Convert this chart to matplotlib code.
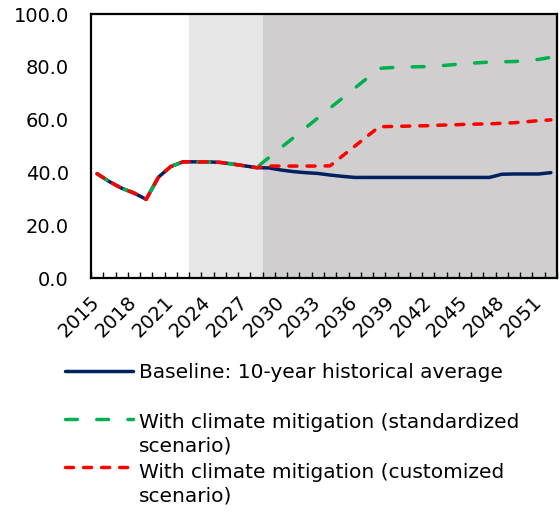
import matplotlib
matplotlib.use('Agg')
import matplotlib.pyplot as plt
from matplotlib.lines import Line2D

years = list(range(2015, 2053))
baseline = [39.5, 36.5, 34.0, 32.2, 29.8, 38.2, 42.2, 44.0, 44.0, 44.0,
            43.8, 43.2, 42.5, 41.8, 41.7, 40.9, 40.3, 39.9, 39.6, 39.0,
            38.5, 38.1, 38.1, 38.1, 38.1, 38.1, 38.1, 38.1, 38.1, 38.1,
            38.1, 38.1, 38.1, 39.3, 39.4, 39.4, 39.4, 39.9]
standardized = [39.5, 36.5, 34.0, 32.2, 29.8, 38.2, 42.2, 44.0, 44.0, 44.0,
                43.8, 43.2, 42.5, 41.8, 45.6, 49.4, 53.1, 56.9, 60.6, 64.4,
                68.1, 71.9, 75.6, 79.4, 79.7, 79.9, 80.0, 80.1, 80.4, 80.8,
                81.2, 81.5, 81.8, 81.9, 82.0, 82.3, 82.8, 83.6]
customized = [39.5, 36.5, 34.0, 32.2, 29.8, 38.2, 42.2, 44.0, 44.0, 44.0,
              43.8, 43.2, 42.5, 41.8, 42.4, 42.4, 42.4, 42.4, 42.4, 42.5,
              46.2, 49.9, 53.6, 57.3, 57.4, 57.5, 57.6, 57.7, 57.9, 58.0,
              58.2, 58.3, 58.4, 58.6, 58.8, 59.2, 59.6, 59.9]
tick_years = [2015, 2018, 2021, 2024, 2027, 2030, 2033, 2036, 2039, 2042,
              2045, 2048, 2051]
y_ticks = [0, 20, 40, 60, 80, 100]
light_period = (2023, 2028)
dark_period = (2029, 2052)
labels = ["Baseline: 10-year historical average",
          "With climate mitigation (standardized\nscenario)",
          "With climate mitigation (customized\nscenario)"]

C_BLUE = '#002060'
C_GREEN = '#00B050'
C_RED = '#FF0000'

plt.rcParams['font.family'] = ['DejaVu Sans']
FS = 14
FS_LEG = 14.5

W, H = 560, 514
fig = plt.figure(figsize=(W / 100, H / 100), dpi=100)
ax = fig.add_axes([91 / W, 1 - 278 / H, (557 - 91) / W, (278 - 14) / H])

ax.axvspan(light_period[0] - 0.5, light_period[1] + 0.5, color='#E7E6E6', lw=0, zorder=0)
ax.axvspan(dark_period[0] - 0.5, dark_period[1] + 0.5, color='#D0CECE', lw=0, zorder=0)

lw = 2.5
green_dash = (3.4, 5.6)
red_dash = (2.3, 2.9)
ax.plot(years, baseline, color=C_BLUE, lw=lw, solid_capstyle='round',
        solid_joinstyle='round', zorder=3)
ax.plot(years, standardized, color=C_GREEN, lw=lw, dashes=green_dash,
        dash_capstyle='round', dash_joinstyle='round', zorder=4)
ax.plot(years, customized, color=C_RED, lw=lw, dashes=red_dash,
        dash_capstyle='round', dash_joinstyle='round', zorder=5)

ax.set_xlim(years[0] - 0.5, years[-1] + 0.5)
ax.set_ylim(y_ticks[0], y_ticks[-1])
for s in ax.spines.values():
    s.set_linewidth(1.6)
    s.set_color('black')

ax.set_xticks(tick_years)
ax.set_xticklabels([str(y) for y in tick_years], rotation=45, ha='right',
                   va='center', rotation_mode='anchor', fontsize=FS)
ax.set_xticks([y - 0.5 for y in years] + [years[-1] + 0.5], minor=True)
ax.tick_params(axis='x', which='major', length=0, pad=15)
ax.tick_params(axis='x', which='minor', direction='in', length=4.3, width=1.0)
ax.set_yticks(y_ticks)
ax.set_yticklabels([f"{v:.1f}" for v in y_ticks], fontsize=FS)
ax.tick_params(axis='y', length=0, pad=16)

# legend (drawn manually, handle aligned with first text line)
def px(x, y):
    return x / W, 1 - y / H

# (colour, dashes, handle y, baseline y of last text line)
entries = [
    (C_BLUE, None, 371, 378.5),
    (C_GREEN, green_dash, 419, 452),
    (C_RED, red_dash, 467, 501.5),
]
for (col, dash, yl, yb), lab in zip(entries, labels):
    x0, y0 = px(65, yl)
    x1, _ = px(133, yl)
    kw = dict(color=col, lw=lw, transform=fig.transFigure)
    if dash is None:
        kw.update(solid_capstyle='round')
    else:
        kw.update(dashes=dash, dash_capstyle='round')
    fig.add_artist(Line2D([x0, x1], [y0, y0], **kw))
    tx, ty = px(139, yb)
    fig.text(tx, ty, lab, fontsize=FS_LEG, va='baseline', ha='left',
             linespacing=1.32)

fig.savefig('out.png', dpi=100)
